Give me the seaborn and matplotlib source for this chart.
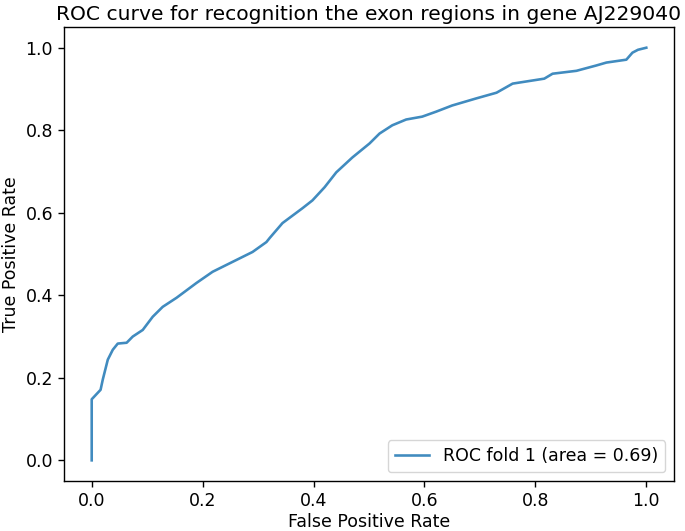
import matplotlib
matplotlib.use("Agg")
import matplotlib.pyplot as plt
import seaborn as sns
import pandas as pd

fpr = [0.0, 0.0, 0.016, 0.020, 0.029, 0.038, 0.047, 0.063, 0.074, 0.092, 0.110,
       0.128, 0.153, 0.189, 0.218, 0.254, 0.290, 0.315, 0.321, 0.344, 0.380,
       0.398, 0.420, 0.434, 0.441, 0.470, 0.501, 0.519, 0.542, 0.567, 0.596,
       0.621, 0.650, 0.693, 0.730, 0.759, 0.816, 0.831, 0.874, 0.910, 0.928,
       0.964, 0.975, 0.985, 1.0]
tpr = [0.0, 0.148, 0.171, 0.196, 0.244, 0.268, 0.283, 0.285, 0.300, 0.316, 0.348,
       0.372, 0.394, 0.430, 0.457, 0.481, 0.505, 0.529, 0.539, 0.575, 0.611,
       0.630, 0.662, 0.686, 0.698, 0.734, 0.768, 0.792, 0.812, 0.826, 0.833,
       0.845, 0.860, 0.877, 0.891, 0.913, 0.925, 0.937, 0.944, 0.957, 0.964,
       0.971, 0.988, 0.995, 1.0]
label = "ROC fold 1 (area = 0.69)"

df = pd.DataFrame({"fpr": fpr, "tpr": tpr})

s = 1.25
plt.rcParams.update({
    "font.size": 10 * s,
    "axes.titlesize": 14.6,
    "axes.labelsize": 10 * s,
    "xtick.labelsize": 10 * s,
    "ytick.labelsize": 10 * s,
    "legend.fontsize": 10 * s,
    "xtick.major.size": 3.5 * s,
    "ytick.major.size": 3.5 * s,
    "xtick.major.width": 0.8 * s,
    "ytick.major.width": 0.8 * s,
    "axes.linewidth": 0.8 * s,
})

fig = plt.figure(figsize=(6.85, 5.31), dpi=100)
ax = fig.add_axes([0.0934, 0.0942, 0.8906, 0.8548])
sns.lineplot(data=df, x="fpr", y="tpr", sort=False, estimator=None,
             ax=ax, color="#1f77b4", lw=1.5 * s, alpha=0.85, label=label)
ax.set_xlim(-0.05, 1.05)
ax.set_ylim(-0.05, 1.05)
ax.set_xticks([0.0, 0.2, 0.4, 0.6, 0.8, 1.0])
ax.set_yticks([0.0, 0.2, 0.4, 0.6, 0.8, 1.0])
ax.set_xlabel("False Positive Rate", labelpad=2)
ax.set_ylabel("True Positive Rate")
ax.set_title("ROC curve for recognition the exon regions in gene AJ229040", pad=5)
ax.legend(loc="lower right")
fig.savefig("out.png", dpi=100)
